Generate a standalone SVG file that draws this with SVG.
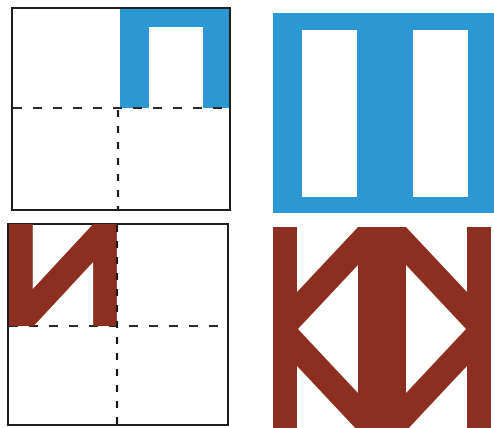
<svg xmlns="http://www.w3.org/2000/svg" width="494" height="428" viewBox="0 0 494 428">
  <style>
    .box { fill: #ffffff; stroke: #1e1e1e; stroke-width: 2; }
    .blue { fill: #2b98d4; }
    .brown { fill: #8c2f20; }
    .dh { stroke: #2a2a2a; stroke-width: 2; stroke-dasharray: 9 11; fill: none; }
    .dv { stroke: #1a1a1a; stroke-width: 2.2; stroke-dasharray: 7 9; fill: none; }
  </style>
  <defs>
    <path id="q" d="M0,0 H24 V65 L85,0 H109 V102 H85 V38 L25,102 H0 Z"/>
  </defs>
  <rect width="494" height="428" fill="#ffffff"/>

  <g id="box-top">
    <rect class="box" x="12" y="8" width="218" height="202"/>
    <path class="blue" d="M120,9 H229 V108 H203 V27 H149 V108 H120 Z"/>
  </g>

  <g id="box-bottom">
    <rect class="box" x="8" y="224" width="220" height="201"/>
    <line class="dh" x1="9" y1="326" x2="227" y2="326"/>
    <use href="#q" class="brown" transform="translate(9,224) scale(0.99,1)"/>
  </g>

  <g id="blue-full">
    <path class="blue" fill-rule="evenodd" d="M273,13 H494 V213 H273 Z M302,30 V197 H357 V30 Z M413,30 V197 H468 V30 Z"/>
  </g>

  <g id="brown-full" class="brown">
    <use href="#q" transform="translate(273,227)"/>
    <use href="#q" transform="translate(491,227) scale(-1,1)"/>
    <use href="#q" transform="translate(273,431) scale(1,-1)"/>
    <use href="#q" transform="translate(491,431) scale(-1,-1)"/>
  </g>

  <g id="connectors">
    <line class="dh" x1="13" y1="108" x2="229" y2="108"/>
    <line class="dv" x1="118" y1="110" x2="118" y2="209"/>
    <line class="dv" x1="117" y1="225" x2="117" y2="424"/>
  </g>
</svg>
